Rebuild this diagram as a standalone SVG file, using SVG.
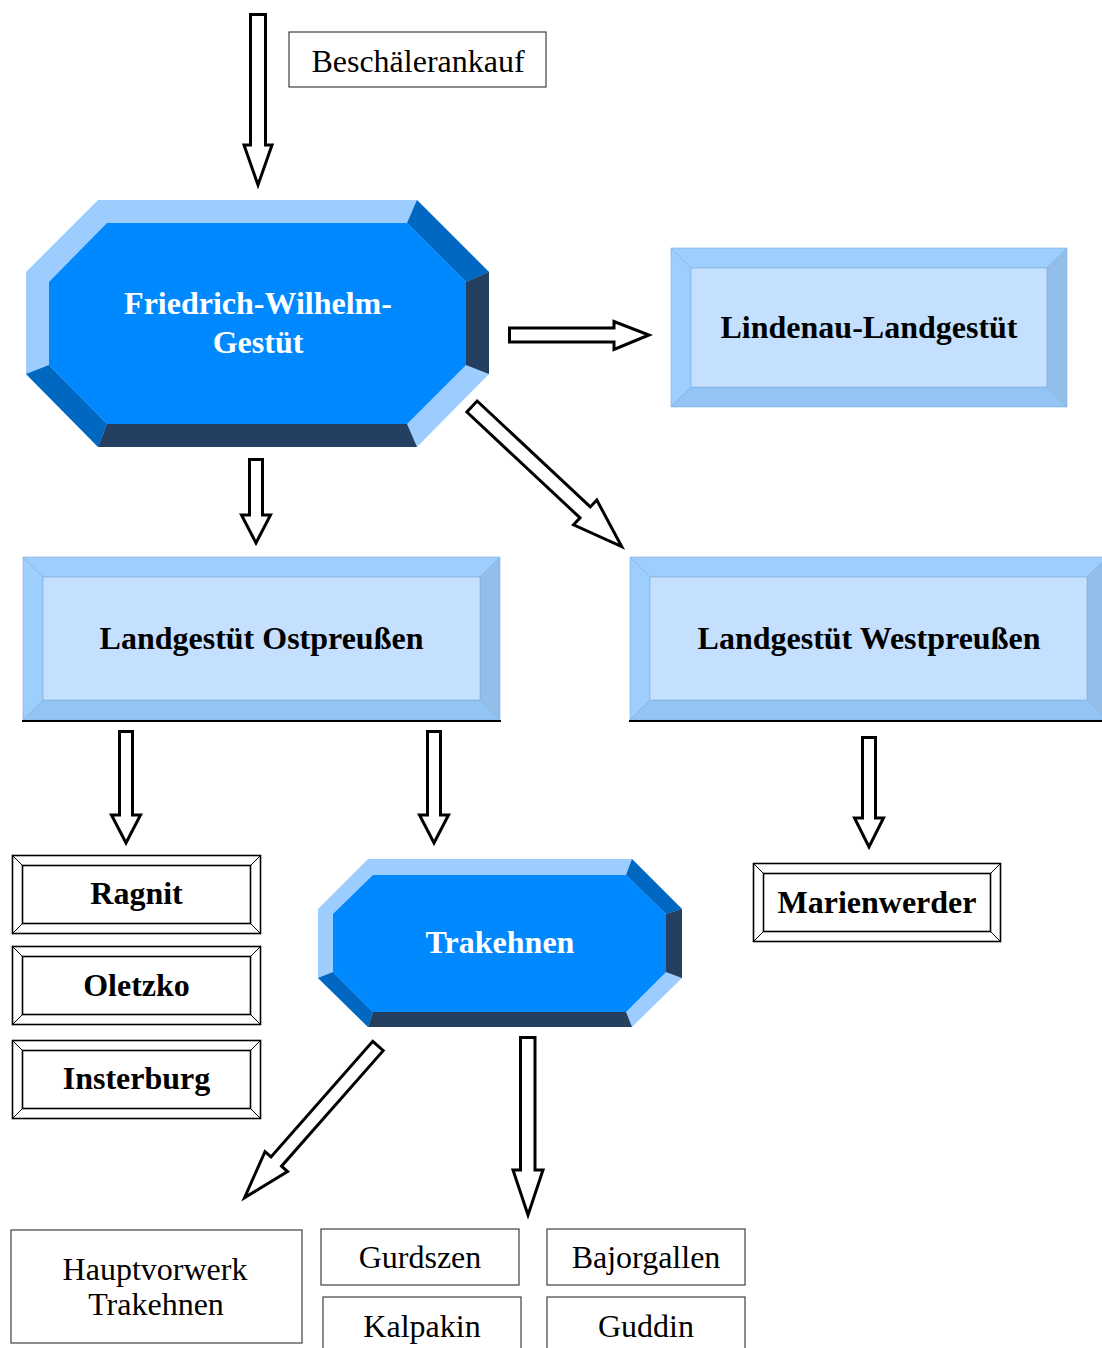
<svg xmlns="http://www.w3.org/2000/svg" width="1102" height="1348" viewBox="0 0 1102 1348">
<defs>
<style>
.bt{font-family:"Liberation Serif","Times New Roman",serif;font-weight:bold;font-size:32px;text-anchor:middle;fill:#000}
.wt{font-family:"Liberation Serif","Times New Roman",serif;font-weight:bold;font-size:32px;text-anchor:middle;fill:#fff}
.rt{font-family:"Liberation Serif","Times New Roman",serif;font-size:32px;text-anchor:middle;fill:#000}
.plain{fill:#fff;stroke:#404040;stroke-width:1.2}
.frame{fill:#fff;stroke:#000;stroke-width:1.6}
.fline{stroke:#000;stroke-width:1;fill:none}
.arrow{fill:#fff;stroke:#000;stroke-width:3;stroke-linejoin:miter}
.bl{fill:#9ECEFD;stroke:#7EAEDE;stroke-width:0.6}
.bl2{fill:#93BEEA;stroke:#7EAEDE;stroke-width:0.6}
.bl3{fill:#94C4F4;stroke:#7EAEDE;stroke-width:0.6}
.bface{fill:#C5E0FF;stroke:#7EAEDE;stroke-width:0.6}
.olight{fill:#9DCDFF}
.omed{fill:#0068C0}
.odark{fill:#243F5F}
.oface{fill:#0088FF}
</style>
</defs>

<g id="connectors">
<polygon class="arrow" points="250.5,14.5 265.5,14.5 265.5,145 272,145 258,185 244,145 250.5,145"/>
<polygon class="arrow" points="509.5,328 614,328 614,321.5 649,335 614,349.5 614,342 509.5,342"/>
<polygon class="arrow" points="249.5,459.5 262.5,459.5 262.5,515 270.5,515 256,543 241.5,515 249.5,515"/>
<polygon class="arrow" transform="translate(472,406.5) rotate(43.1)" points="0,-7.5 155,-7.5 155,-17 205,0 155,17 155,7.5 0,7.5"/>
<polygon class="arrow" points="119.5,731.5 132.5,731.5 132.5,815 140.5,815 126,843 111.5,815 119.5,815"/>
<polygon class="arrow" points="427.5,731.5 440.5,731.5 440.5,815 448.5,815 434,843 419.5,815 427.5,815"/>
<polygon class="arrow" points="862.5,737.5 875.5,737.5 875.5,818 883.5,818 869,847 854.5,818 862.5,818"/>
<polygon class="arrow" points="520.5,1037.5 535,1037.5 535,1170 543,1170 528,1215 513,1170 520.5,1170"/>
<polygon class="arrow" transform="translate(378,1046) rotate(131.35)" points="0,-7 154,-7 154,-15 202,0 154,15 154,7 0,7"/>
</g>

<g id="node-beschaeler">
<rect class="plain" x="289" y="32" width="257" height="55"/>
<text class="rt" x="418" y="72">Beschälerankauf</text>
</g>

<g id="node-fw">
<polygon class="olight" points="98,200 417,200 489,272 489,374 417,447 98,447 26,374 26,272"/>
<polygon class="omed" points="417,200 489,272 466,282 407,223"/>
<polygon class="odark" points="489,272 489,374 466,365 466,282"/>
<polygon class="odark" points="417,447 98,447 107,424 407,424"/>
<polygon class="omed" points="98,447 26,374 49,365 107,424"/>
<polygon class="oface" points="107,223 407,223 466,282 466,365 407,424 107,424 49,365 49,282"/>
<text class="wt" x="258" y="314">Friedrich-Wilhelm-</text>
<text class="wt" x="258" y="353">Gestüt</text>
</g>

<g id="node-lindenau">
<polygon class="bl" points="671,248 1067,248 1047,268 691,268"/>
<polygon class="bl" points="671,248 691,268 691,387 671,407"/>
<polygon class="bl2" points="1067,248 1067,407 1047,387 1047,268"/>
<polygon class="bl3" points="671,407 691,387 1047,387 1067,407"/>
<rect class="bface" x="691" y="268" width="356" height="119"/>
<text class="bt" x="869" y="338">Lindenau-Landgestüt</text>
</g>

<g id="node-ostpreussen">
<polygon class="bl" points="23,557 500,557 480,577 43,577"/>
<polygon class="bl" points="23,557 43,577 43,700 23,720"/>
<polygon class="bl2" points="500,557 500,720 480,700 480,577"/>
<polygon class="bl3" points="23,720 43,700 480,700 500,720"/>
<rect class="bface" x="43" y="577" width="437" height="123"/>
<line x1="22" y1="721" x2="501" y2="721" stroke="#000" stroke-width="2"/>
<text class="bt" x="261.5" y="649">Landgestüt Ostpreußen</text>
</g>

<g id="node-westpreussen">
<polygon class="bl" points="630,557 1107,557 1087,577 650,577"/>
<polygon class="bl" points="630,557 650,577 650,700 630,720"/>
<polygon class="bl2" points="1107,557 1107,720 1087,700 1087,577"/>
<polygon class="bl3" points="630,720 650,700 1087,700 1107,720"/>
<rect class="bface" x="650" y="577" width="437" height="123"/>
<line x1="629" y1="721" x2="1102" y2="721" stroke="#000" stroke-width="2"/>
<text class="bt" x="869" y="649">Landgestüt Westpreußen</text>
</g>

<g id="node-ragnit">
<rect class="frame" x="12.5" y="855.5" width="248" height="78"/>
<rect class="frame" x="22.5" y="865.5" width="228" height="58"/>
<path class="fline" d="M12.5,855.5 L22.5,865.5 M260.5,855.5 L250.5,865.5 M12.5,933.5 L22.5,923.5 M260.5,933.5 L250.5,923.5"/>
<text class="bt" x="136.5" y="904">Ragnit</text>
</g>

<g id="node-oletzko">
<rect class="frame" x="12.5" y="946.5" width="248" height="78"/>
<rect class="frame" x="22.5" y="956.5" width="228" height="58"/>
<path class="fline" d="M12.5,946.5 L22.5,956.5 M260.5,946.5 L250.5,956.5 M12.5,1024.5 L22.5,1014.5 M260.5,1024.5 L250.5,1014.5"/>
<text class="bt" x="136.5" y="996">Oletzko</text>
</g>

<g id="node-insterburg">
<rect class="frame" x="12.5" y="1040.5" width="248" height="78"/>
<rect class="frame" x="22.5" y="1050.5" width="228" height="58"/>
<path class="fline" d="M12.5,1040.5 L22.5,1050.5 M260.5,1040.5 L250.5,1050.5 M12.5,1118.5 L22.5,1108.5 M260.5,1118.5 L250.5,1108.5"/>
<text class="bt" x="136.5" y="1089">Insterburg</text>
</g>

<g id="node-marienwerder">
<rect class="frame" x="753.5" y="863.5" width="247" height="78"/>
<rect class="frame" x="763.5" y="873.5" width="227" height="58"/>
<path class="fline" d="M753.5,863.5 L763.5,873.5 M1000.5,863.5 L990.5,873.5 M753.5,941.5 L763.5,931.5 M1000.5,941.5 L990.5,931.5"/>
<text class="bt" x="877" y="913">Marienwerder</text>
</g>

<g id="node-trakehnen">
<polygon class="olight" points="368,859 632,859 682,909 682,978 632,1027 368,1027 318,978 318,909"/>
<polygon class="omed" points="632,859 682,909 666,914 626,875"/>
<polygon class="odark" points="682,909 682,978 666,972 666,914"/>
<polygon class="odark" points="632,1027 368,1027 373,1012 626,1012"/>
<polygon class="omed" points="368,1027 318,978 333,972 373,1012"/>
<polygon class="oface" points="373,875 626,875 666,914 666,972 626,1012 373,1012 333,972 333,914"/>
<text class="wt" x="500" y="953">Trakehnen</text>
</g>

<g id="node-hauptvorwerk">
<rect class="plain" x="11" y="1230" width="291" height="113"/>
<text class="rt" x="155" y="1280">Hauptvorwerk</text>
<text class="rt" x="156" y="1315">Trakehnen</text>
</g>

<g id="node-gurdszen">
<rect class="plain" x="321" y="1229" width="198" height="56"/>
<text class="rt" x="420" y="1268">Gurdszen</text>
</g>

<g id="node-bajorgallen">
<rect class="plain" x="547" y="1229" width="198" height="56"/>
<text class="rt" x="646" y="1268">Bajorgallen</text>
</g>

<g id="node-kalpakin">
<rect class="plain" x="323" y="1297" width="198" height="60"/>
<text class="rt" x="422" y="1337">Kalpakin</text>
</g>

<g id="node-guddin">
<rect class="plain" x="547" y="1297" width="198" height="60"/>
<text class="rt" x="646" y="1337">Guddin</text>
</g>
</svg>
